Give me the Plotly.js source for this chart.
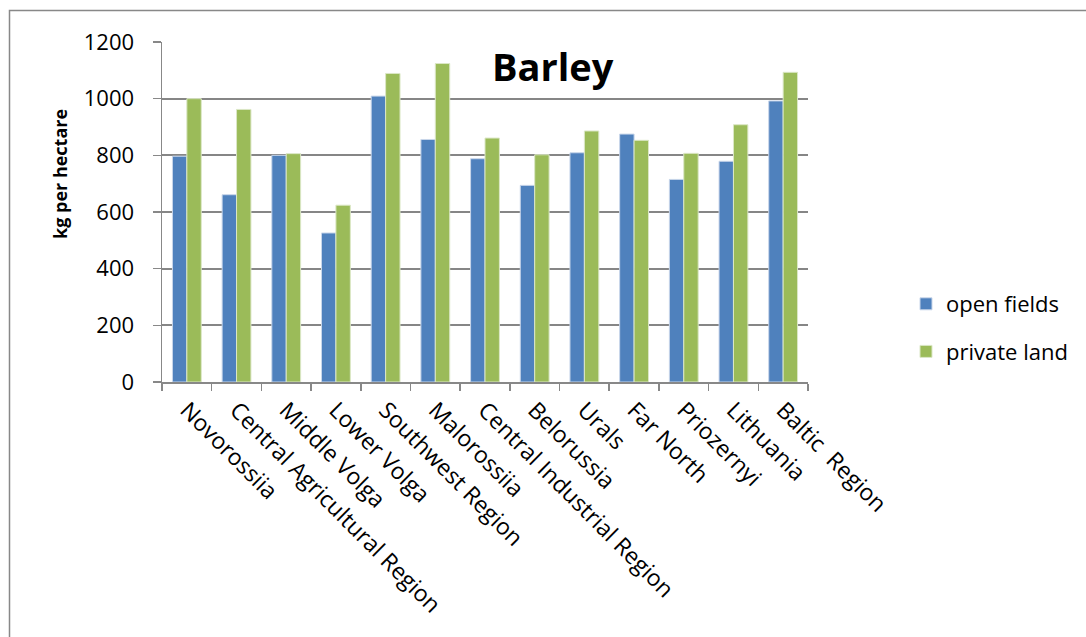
<!DOCTYPE html>
<html>
<head>
<meta charset="utf-8">
<script src="https://cdn.plot.ly/plotly-3.0.1.min.js"></script>
<style>
html,body{margin:0;padding:0;background:#fff;}
#chart{width:1086px;height:637px;}
</style>
</head>
<body>
<div id="chart"></div>
<script>
const regions = ["Novorossiia","Central Agricultural Region","Middle Volga","Lower Volga","Southwest Region","Malorossiia","Central Industrial Region","Belorussia","Urals","Far North","Priozernyi","Lithuania","Baltic\u00a0 Region"];
const openFields = [797, 661, 800, 526, 1009, 856, 788, 694, 809, 875, 715, 779, 992];
const privateLand = [1000, 962, 806, 624, 1089, 1124, 861, 802, 886, 853, 807, 908, 1093];
const yTicks = [0, 200, 400, 600, 800, 1000, 1200];

const FONT = "Open Sans, DejaVu Sans, sans-serif";
const W = 1086, H = 637;
const L = 162, R = 278, T = 42, B = 255;
const pw = W - L - R, ph = H - T - B;
function px(x){ return (x - L) / pw; }
function py(y){ return (H - B - y) / ph; }

const traces = [
  {type:"bar", name:"open fields", x:regions, y:openFields,
   marker:{color:"#4F81BD", line:{color:"#c9d6ea", width:1}}, legendgroup:"a"},
  {type:"bar", name:"private land", x:regions, y:privateLand,
   marker:{color:"#9BBB59", line:{color:"#dbe7c6", width:1}}, legendgroup:"b"}
];

const layout = {
  width:W, height:H,
  margin:{l:L, r:R, t:T, b:B, pad:0},
  paper_bgcolor:"#fff", plot_bgcolor:"#fff",
  barmode:"group", bargap:0.42, bargroupgap:0,
  showlegend:true,
  legend:{x:px(906), y:py(328), xanchor:"left", yanchor:"middle",
          font:{family:FONT, size:22, color:"#000"}, tracegroupgap:16,
          traceorder:"grouped", itemwidth:30, bgcolor:"rgba(0,0,0,0)"},
  xaxis:{type:"category", tickangle:45, showgrid:false,
         showline:true, linecolor:"#888", linewidth:1.5,
         ticks:"outside", ticklen:7, tickcolor:"#888", tickwidth:1.5,
         tickson:"boundaries", ticklabelstandoff:4,
         tickfont:{family:FONT, size:23, color:"#000"}},
  yaxis:{range:[0,1200], tickvals:yTicks, ticktext:yTicks.map(String),
         showgrid:true, gridcolor:"#868686", gridwidth:2,
         showline:true, linecolor:"#888", linewidth:1.5,
         ticks:"outside", ticklen:8, tickcolor:"#888", tickwidth:1.5,
         ticklabelstandoff:14, zeroline:false,
         tickfont:{family:FONT, size:22, color:"#000"}},
  annotations:[
    {text:"<b>Barley</b>", xref:"paper", yref:"paper", x:px(553), y:py(66),
     xanchor:"center", yanchor:"middle", showarrow:false,
     font:{family:FONT, size:38, color:"#000"}},
    {text:"<b>kg per hectare</b>", xref:"paper", yref:"paper", x:px(60), y:py(174),
     xanchor:"center", yanchor:"middle", showarrow:false, textangle:-90,
     font:{family:FONT, size:18, color:"#000"}}
  ],
  shapes:[
    {type:"rect", xref:"paper", yref:"paper", x0:px(9.5), y0:py(10.5), x1:px(1100), y1:py(700),
     line:{color:"#888", width:1.5}, fillcolor:"rgba(0,0,0,0)", layer:"below"}
  ]
};

Plotly.newPlot("chart", traces, layout, {displayModeBar:false, staticPlot:true});
</script>
</body>
</html>
